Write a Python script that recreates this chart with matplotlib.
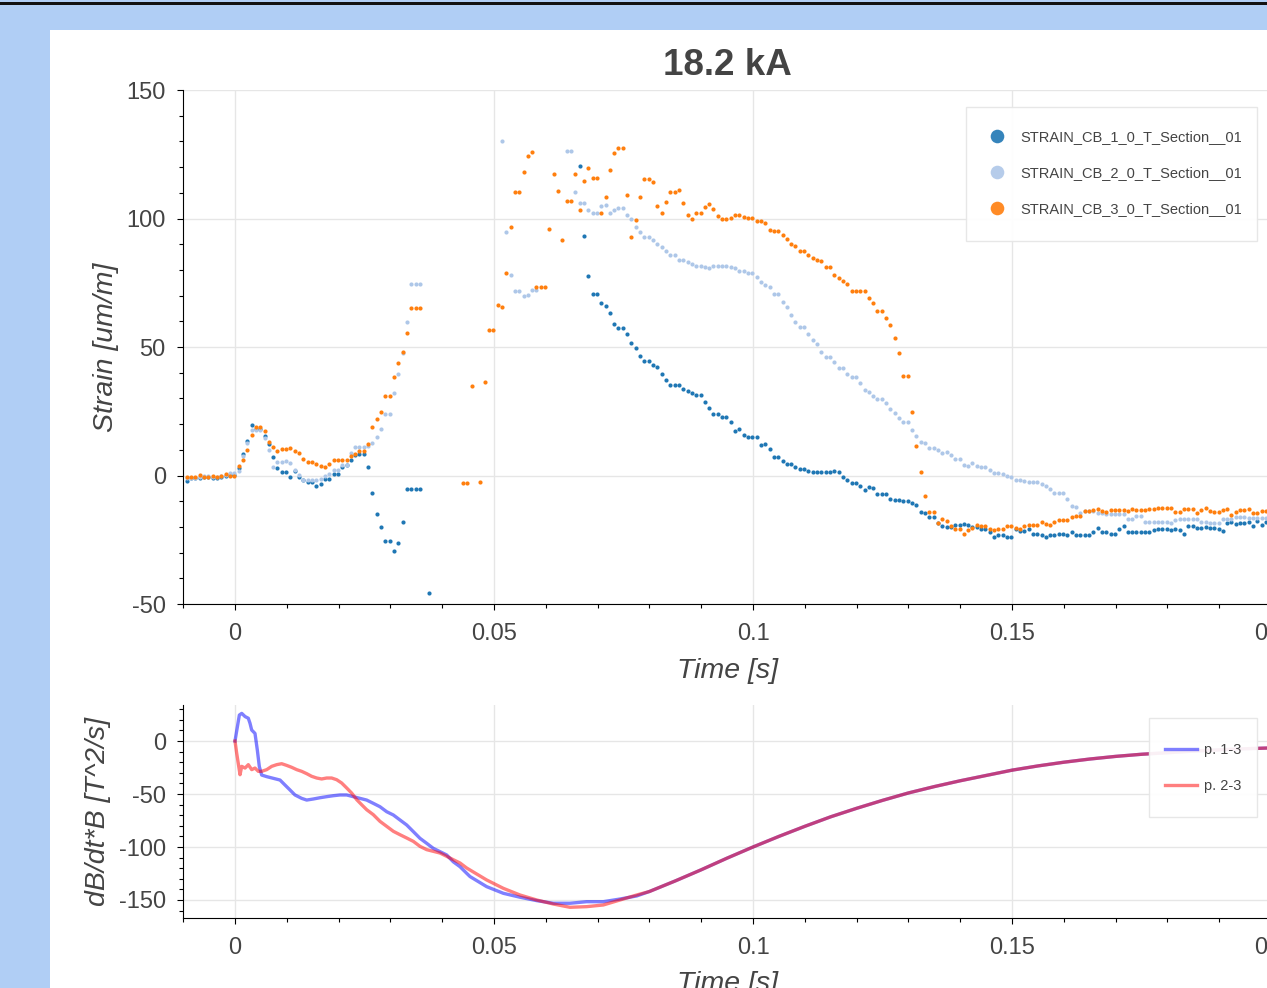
"""
Strain and dB/dt*B plot for the 18.2 kA shot.
"""

import numpy as np
import matplotlib.pyplot as plt
from matplotlib.lines import Line2D
from matplotlib.patches import Rectangle
from matplotlib.ticker import MultipleLocator, FuncFormatter
from matplotlib.transforms import blended_transform_factory

# ============== Configuration ==============
W, H = 1267, 988
DPI = 100
FONT = ['Liberation Sans', 'DejaVu Sans']
TEXT_COLOR = '#444444'
GRID_COLOR = '#e6e6e6'

TITLE = '18.2 kA'

# strain gauge samples: first sample time and sample step [s]
SAMPLE_START = -0.0093
SAMPLE_STEP = 1 / 1200
nan = np.nan

STRAIN_LABELS = ['STRAIN_CB_1_0_T_Section__01',
                 'STRAIN_CB_2_0_T_Section__01',
                 'STRAIN_CB_3_0_T_Section__01']
STRAIN_COLORS = ['#1f77b4', '#aec7e8', '#ff7f0e']

STRAIN_CB_1 = [
    -2.2, -1.0, -1.0, -0.8, -0.5, -0.5, -0.8, -1.0, -0.6, -0.2, 0.2, 0.3,
    3.0, 8.2, 13.5, 19.5, 17.9, 17.9, 15.3, 12.3, 7.1, 3.0, 1.3, 1.3,
    -0.6, 1.6, -0.6, -1.6, -2.7, -2.7, -4.2, -3.2, -1.3, -1.3, 0.5, 0.5,
    3.5, 4.2, 6.1, 7.8, 8.3, 8.3, 3.3, -6.8, -14.9, -20.1, -25.4, -25.4,
    -29.3, -26.2, -18.0, -5.2, -5.2, -5.2, -5.2, nan, -45.8, nan, nan, nan,
    nan, nan, nan, nan, nan, nan, nan, nan, nan, nan, nan, nan,
    nan, nan, nan, nan, nan, nan, nan, nan, nan, nan, nan, nan,
    nan, nan, nan, nan, nan, nan, nan, 120.3, 93.1, 77.8, 70.8, 70.8,
    67.2, 65.8, 63.3, 58.9, 57.2, 57.2, 55.1, 51.6, 49.8, 46.6, 44.4, 44.4,
    43.1, 42.3, 39.6, 37.0, 35.3, 35.3, 35.3, 33.5, 32.8, 32.0, 31.3, 31.3,
    28.7, 26.3, 24.1, 24.1, 22.6, 22.6, 20.8, 17.2, 18.2, 15.8, 14.8, 14.8,
    14.8, 11.8, 12.3, 10.4, 7.1, 7.1, 5.7, 4.3, 4.3, 3.4, 2.5, 2.5,
    1.6, 1.2, 1.2, 1.2, 1.4, 1.4, 1.7, 1.3, -0.6, -1.8, -2.9, -2.9,
    -4.0, -5.7, -4.4, -4.9, -7.1, -7.1, -7.1, -9.1, -9.7, -9.7, -10.0, -10.0,
    -10.8, -11.4, -14.3, -14.7, -16.2, -16.2, -18.4, -19.5, -20.0, -20.0, -19.2, -19.2,
    -18.7, -19.2, -20.0, -20.0, -21.0, -21.0, -22.0, -23.9, -23.3, -23.3, -23.9, -23.9,
    -20.8, -21.7, -21.7, -21.0, -22.6, -22.8, -23.3, -23.9, -23.3, -23.0, -22.6, -22.6,
    -23.3, -22.0, -23.3, -23.1, -23.1, -23.1, -22.0, -20.5, -22.0, -22.0, -22.8, -22.8,
    -21.0, -19.5, -22.0, -21.8, -21.8, -21.8, -21.8, -21.8, -21.4, -21.0, -21.0, -21.0,
    -21.4, -20.8, -21.4, -22.8, -19.7, -19.7, -20.5, -20.5, -20.0, -20.5, -20.5, -20.8,
    -21.7, -18.4, -18.2, -18.7, -18.4, -18.4, -17.9, -19.5, -17.8, -19.2, -18.0,
]

STRAIN_CB_2 = [
    -1.0, -1.0, -1.0, -0.5, -0.3, -0.3, -0.5, -0.7, -0.3, 0.3, 0.8, 0.8,
    1.7, 7.5, 12.7, 17.6, 17.6, 17.6, 14.7, 9.9, 3.4, 5.3, 5.3, 5.7,
    4.7, 2.3, 0.1, -1.8, -1.8, -1.9, -1.8, -1.3, -0.3, 0.4, 2.3, 2.3,
    3.9, 4.2, 8.8, 11.0, 11.0, 11.0, 11.4, 12.8, 14.8, 18.0, 23.9, 23.9,
    32.2, 39.6, 47.5, 59.8, 74.7, 74.7, 74.7, nan, nan, nan, nan, nan,
    nan, nan, nan, nan, nan, nan, nan, nan, nan, nan, nan, nan,
    nan, 130.1, 94.7, 78.1, 71.9, 71.9, 69.9, 70.4, 72.1, 72.1, nan, nan,
    nan, nan, nan, nan, 126.2, 126.2, 110.2, 106.1, 106.1, 103.5, 102.2, 102.2,
    104.8, 105.4, 102.2, 103.2, 103.9, 103.9, 101.2, 99.9, 96.6, 94.7, 92.7, 92.7,
    91.8, 90.1, 88.8, 87.3, 85.7, 85.7, 83.7, 83.7, 83.1, 82.4, 81.5, 81.5,
    81.2, 80.8, 81.5, 81.5, 81.5, 81.5, 81.2, 80.9, 79.4, 79.4, 78.9, 78.9,
    77.4, 75.4, 74.3, 73.2, 70.6, 70.6, 67.7, 65.4, 62.4, 59.7, 57.8, 57.8,
    55.1, 52.8, 51.1, 48.0, 46.0, 46.0, 44.1, 41.9, 41.9, 39.3, 38.4, 38.4,
    35.8, 33.2, 32.6, 31.0, 29.8, 29.8, 28.1, 25.9, 24.5, 22.4, 20.9, 20.9,
    17.6, 15.3, 13.1, 12.5, 10.8, 10.8, 9.9, 8.6, 9.1, 7.8, 6.5, 6.5,
    4.2, 3.6, 4.7, 3.6, 3.2, 3.2, 2.3, 1.0, 1.0, 0.4, -0.3, -0.5,
    -1.9, -1.9, -2.2, -2.5, -2.5, -2.5, -3.5, -3.9, -5.1, -6.9, -6.9, -6.9,
    -9.3, -11.9, -12.2, -14.5, -13.9, -13.9, -13.9, -14.5, -14.7, -14.9, -14.9, -14.9,
    -14.9, -14.9, -16.9, -16.9, -15.8, -15.8, -18.2, -18.2, -18.2, -18.2, -18.2, -18.2,
    -18.4, -17.4, -16.8, -16.8, -16.8, -16.8, -16.8, -18.2, -18.2, -18.5, -18.5, -18.5,
    -17.1, -17.1, -17.1, -16.1, -16.1, -16.1, -16.5, -16.5, -16.5, -16.5, -16.5,
]

STRAIN_CB_3 = [
    -0.5, -0.6, -0.6, 0.1, -0.6, -0.5, -0.3, -0.6, -0.3, 0.4, 0.0, 0.0,
    3.6, 6.2, 9.8, 15.7, 18.8, 18.8, 17.3, 13.0, 10.9, 9.7, 10.4, 10.4,
    10.8, 9.7, 8.6, 6.5, 5.3, 5.3, 4.5, 3.7, 3.4, 4.4, 6.1, 6.1,
    6.1, 6.1, 7.4, 8.2, 9.5, 9.5, 12.2, 18.7, 21.9, 24.8, 31.0, 31.0,
    38.4, 43.6, 48.0, 55.5, 65.0, 65.0, 65.0, nan, nan, nan, nan, nan,
    nan, nan, nan, nan, -3.1, -3.1, 35.0, nan, -2.6, 36.4, 56.7, 56.7,
    66.4, 65.6, 78.9, 96.6, 110.4, 110.4, 118.0, 124.5, 125.9, 73.2, 73.2, 73.2,
    96.0, 117.5, 110.8, 91.6, 106.7, 106.7, 117.4, 103.5, 114.7, 119.7, 115.7, 115.7,
    102.1, 108.3, 118.9, 125.3, 127.4, 127.4, 109.0, 92.7, 99.6, 108.4, 115.4, 115.4,
    114.3, 104.8, 102.2, 106.4, 110.4, 110.4, 111.0, 106.1, 101.2, 99.9, 102.1, 102.1,
    104.4, 105.8, 103.8, 100.9, 99.9, 99.9, 100.1, 101.4, 101.4, 100.6, 100.3, 100.3,
    99.2, 99.0, 98.3, 95.7, 95.1, 95.1, 93.5, 92.2, 90.1, 89.2, 87.2, 87.2,
    85.9, 84.7, 83.8, 83.3, 81.3, 81.3, 78.1, 76.8, 75.6, 74.4, 71.9, 71.9,
    71.9, 71.7, 68.9, 67.1, 64.2, 64.2, 61.2, 58.4, 53.4, 47.6, 38.9, 38.9,
    24.9, 11.4, 1.2, -7.8, -14.3, -14.3, -18.4, -17.1, -17.8, -19.5, -20.8, -20.8,
    -22.6, -21.4, -20.4, -19.1, -19.7, -19.7, -21.0, -21.3, -21.0, -20.8, -19.5, -19.5,
    -20.5, -21.0, -19.5, -19.1, -19.1, -19.1, -18.0, -18.8, -19.1, -17.9, -17.5, -17.5,
    -17.5, -16.1, -15.6, -15.6, -14.0, -14.0, -13.6, -13.1, -13.9, -14.3, -13.4, -13.4,
    -13.6, -13.6, -13.9, -13.1, -13.6, -13.6, -13.6, -13.1, -13.0, -12.7, -12.7, -12.7,
    -12.7, -14.3, -14.3, -13.2, -13.0, -13.0, -14.5, -13.4, -12.8, -14.0, -14.3, -14.3,
    -13.5, -13.2, -15.2, -14.1, -13.5, -13.5, -13.0, -14.5, -14.5, -13.9, -14.0,
]

# dB/dt*B curves (time [s], value [T^2/s])
P13_T = [0.0, 0.00084, 0.0013, 0.00194, 0.00257, 0.0029, 0.00322, 0.00386,
         0.00431, 0.0047, 0.00515, 0.00612, 0.0074, 0.00869, 0.00965, 0.01062,
         0.01158, 0.01287, 0.01384, 0.01512, 0.01641, 0.0177, 0.01898, 0.02027,
         0.02156, 0.02284, 0.02413, 0.02542, 0.0267, 0.02799, 0.02928, 0.03057,
         0.03185, 0.03314, 0.03443, 0.03571, 0.037, 0.03829, 0.03958, 0.04086,
         0.04215, 0.04344, 0.04472, 0.04537, 0.04858, 0.0518, 0.05502, 0.05824,
         0.06145, 0.06467, 0.06789, 0.07111, 0.07432, 0.07754]
P13_V = [0.0, 24.5, 26.1, 23.1, 21.5, 16.7, 10.4, 7.2,
         -8.5, -24.2, -32.1, -33.6, -35.2, -36.8, -41.5, -46.2,
         -50.9, -54.1, -55.7, -54.7, -53.5, -52.5, -51.6, -50.9,
         -50.9, -52.5, -54.1, -55.7, -58.8, -62.0, -66.7, -69.8,
         -74.5, -79.2, -85.5, -91.8, -96.5, -101.3, -104.4, -107.5,
         -114.0, -118.6, -124.8, -127.9, -137.4, -143.7, -147.4, -150.6,
         -153.1, -153.1, -151.6, -151.6, -149.1, -146.2]

P23_T = [0.0, 0.00032, 0.00097, 0.0013, 0.00194, 0.00257, 0.00322, 0.00386,
         0.0045, 0.00515, 0.00612, 0.00708, 0.00805, 0.00901, 0.00998, 0.01094,
         0.01191, 0.01287, 0.01384, 0.0148, 0.01577, 0.01673, 0.0177, 0.01866,
         0.01963, 0.02059, 0.02156, 0.02252, 0.02349, 0.02445, 0.02542, 0.0267,
         0.02799, 0.02928, 0.03057, 0.03185, 0.03314, 0.03443, 0.03571, 0.037,
         0.03829, 0.03958, 0.04086, 0.04215, 0.04344, 0.04472, 0.04537, 0.04858,
         0.0518, 0.05502, 0.05824, 0.06145, 0.06467, 0.06789, 0.07111, 0.07432,
         0.07754]
P23_V = [0.0, -11.3, -31.8, -23.9, -25.5, -22.3, -27.0, -25.5,
         -28.6, -28.6, -27.0, -23.9, -22.3, -21.4, -23.0, -24.8,
         -27.0, -28.6, -30.8, -33.3, -34.9, -35.8, -34.9, -34.9,
         -36.5, -39.6, -44.3, -49.1, -55.3, -60.1, -64.8, -69.5,
         -75.8, -80.5, -85.2, -88.4, -91.5, -94.7, -99.4, -102.5,
         -104.1, -105.7, -108.8, -112.0, -115.1, -119.8, -121.7, -131.1,
         -139.0, -145.3, -150.0, -153.8, -156.9, -156.3, -154.7, -150.0,
         -145.3]

# after ~0.078 s both curves coincide
TAIL_T = [0.08, 0.085, 0.09, 0.095, 0.1, 0.105, 0.11, 0.115, 0.12, 0.125,
          0.13, 0.135, 0.14, 0.145, 0.15, 0.155, 0.16, 0.165, 0.17, 0.175,
          0.18, 0.185, 0.19, 0.195, 0.2]
TAIL_V = [-142.0, -132.0, -121.5, -110.5, -100.0, -90.0, -80.5, -71.5, -63.5, -56.0,
          -49.0, -43.0, -37.5, -32.5, -27.5, -23.5, -20.0, -17.0, -14.5, -12.5,
          -11.0, -9.5, -8.3, -7.3, -6.5]

DBDT_LABELS = ['p. 1-3', 'p. 2-3']
DBDT_COLORS = ['blue', 'red']


# ============== Helpers ==============
def px_rect(left, top, right, bottom):
    """Pixel box (from top-left) -> figure fraction [l, b, w, h]."""
    return [left / W, 1 - bottom / H, (right - left) / W, (bottom - top) / H]


def fmt(v, pos):
    return f'{v:g}'


def style_axes(ax, ymajor, yminor):
    for s in ('top', 'right'):
        ax.spines[s].set_visible(False)
    for s in ('left', 'bottom'):
        ax.spines[s].set_color('black')
        ax.spines[s].set_linewidth(0.8)
    ax.xaxis.set_major_locator(MultipleLocator(0.05))
    ax.xaxis.set_minor_locator(MultipleLocator(0.01))
    ax.yaxis.set_major_locator(MultipleLocator(ymajor))
    ax.yaxis.set_minor_locator(MultipleLocator(yminor))
    ax.xaxis.set_major_formatter(FuncFormatter(fmt))
    ax.yaxis.set_major_formatter(FuncFormatter(fmt))
    ax.tick_params(which='major', direction='out', length=4.5, width=0.8,
                   color='black', labelcolor=TEXT_COLOR, labelsize=17)
    ax.tick_params(which='minor', direction='out', length=3, width=0.8,
                   color='black')
    ax.tick_params(axis='x', which='major', pad=9)
    ax.tick_params(axis='y', which='major', pad=8)
    ax.grid(True, which='major', color=GRID_COLOR, lw=1)
    ax.set_axisbelow(True)


def legend_box(ax, left, top, right, bottom):
    rect = Rectangle((left / W, 1 - bottom / H), (right - left) / W,
                     (bottom - top) / H, transform=ax.figure.transFigure,
                     facecolor='white', edgecolor=GRID_COLOR, lw=1,
                     alpha=0.93, zorder=4)
    ax.add_patch(rect)


# ============== Main ==============
def main():
    plt.rcParams['font.family'] = FONT
    plt.rcParams['axes.unicode_minus'] = False

    fig = plt.figure(figsize=(W / DPI, H / DPI), dpi=DPI)
    fig.patch.set_facecolor('#b0cef5')
    fig.add_artist(Rectangle((50 / W, 0), 1, 1 - 30 / H, transform=fig.transFigure,
                             facecolor='white', edgecolor='none', zorder=-2))
    fig.add_artist(Rectangle((0, 1 - 4.6 / H), 1, 2.2 / H, transform=fig.transFigure,
                             facecolor='#111111', edgecolor='none', zorder=-2))

    # ---- strain ----
    ax1 = fig.add_axes(px_rect(183.2, 90, 1271, 604))
    t = SAMPLE_START + SAMPLE_STEP * np.arange(len(STRAIN_CB_1))
    for vals, color in zip([STRAIN_CB_1, STRAIN_CB_2, STRAIN_CB_3], STRAIN_COLORS):
        ax1.plot(t, vals, ls='none', marker='o', ms=3.0, mew=0, color=color, zorder=2)
    ax1.set_xlim(-0.01, 0.2)
    ax1.set_ylim(-50, 150)
    style_axes(ax1, 50, 10)

    fig.text(727 / W, 1 - 75 / H, TITLE, ha='center', va='baseline',
             fontsize=26.5, fontweight='bold', color=TEXT_COLOR)
    ax1.set_xlabel('Time [s]', fontsize=20.5, style='italic', color=TEXT_COLOR)
    ax1.xaxis.set_label_coords(0.5, 1 - 658 / H,
                               transform=blended_transform_factory(ax1.transAxes, fig.transFigure))
    ax1.set_ylabel('Strain [um/m]', fontsize=20.5, style='italic', color=TEXT_COLOR)
    ax1.yaxis.set_label_coords(119 / W, 0.5,
                               transform=blended_transform_factory(fig.transFigure, ax1.transAxes))

    legend_box(ax1, 966, 107, 1257, 241)
    handles = [Line2D([], [], ls='none', marker='o', ms=9.8, mew=0, color=c, alpha=0.9)
               for c in STRAIN_COLORS]
    leg1 = ax1.legend(handles, STRAIN_LABELS, loc='center left',
                      bbox_to_anchor=(982 / W, 1 - 173 / H), bbox_transform=fig.transFigure,
                      frameon=False, fontsize=10.5, labelcolor=TEXT_COLOR,
                      borderpad=0, borderaxespad=0, handlelength=2.05,
                      handletextpad=0.58, labelspacing=1.5)
    leg1.set_zorder(5)

    # ---- dB/dt*B ----
    ax2 = fig.add_axes(px_rect(183.2, 705, 1271, 918))
    for tt, vv, color in zip([P13_T, P23_T], [P13_V, P23_V], DBDT_COLORS):
        ax2.plot(list(tt) + TAIL_T, list(vv) + TAIL_V, color=color, lw=2.4,
                 alpha=0.5, solid_joinstyle='round', zorder=2)
    ax2.set_xlim(-0.01, 0.2)
    ax2.set_ylim(-167, 34)
    style_axes(ax2, 50, 10)

    ax2.set_xlabel('Time [s]', fontsize=20.5, style='italic', color=TEXT_COLOR)
    ax2.xaxis.set_label_coords(0.5, 1 - 971 / H,
                               transform=blended_transform_factory(ax2.transAxes, fig.transFigure))
    ax2.set_ylabel('dB/dt*B [T^2/s]', fontsize=20.5, style='italic', color=TEXT_COLOR)
    ax2.yaxis.set_label_coords(111 / W, 0.5,
                               transform=blended_transform_factory(fig.transFigure, ax2.transAxes))

    legend_box(ax2, 1149, 718, 1257, 817)
    handles = [Line2D([], [], color=c, lw=2.4, alpha=0.5) for c in DBDT_COLORS]
    leg2 = ax2.legend(handles, DBDT_LABELS, loc='center left',
                      bbox_to_anchor=(1165 / W, 1 - 768 / H), bbox_transform=fig.transFigure,
                      frameon=False, fontsize=10.5, labelcolor=TEXT_COLOR,
                      borderpad=0, borderaxespad=0, handlelength=2.19,
                      handletextpad=0.48, labelspacing=1.5)
    leg2.set_zorder(5)

    fig.savefig('out.png', dpi=DPI, facecolor=fig.get_facecolor())


if __name__ == '__main__':
    main()
